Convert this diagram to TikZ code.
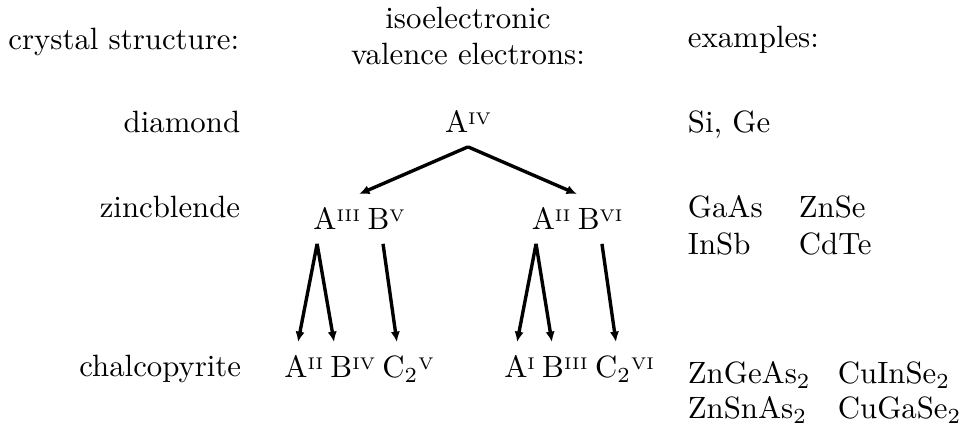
\documentclass[tikz,border=0pt]{standalone}
\usepackage{tikz}
\usetikzlibrary{positioning,arrows.meta}
\tikzset{
  rowname/.style={anchor=base east},
  example/.style={anchor=base west},
  formula/.style={anchor=base,inner ysep=4.3pt},
  branch/.style={line width=1.1pt,-{Latex[length=3.4pt,width=3pt]}}
}
\newcommand{\sups}[1]{\raisebox{2.9pt}{\fontsize{5.5}{6}\selectfont #1}}
\newcommand{\el}[2]{#1\sups{#2}}
\newcommand{\gap}{\hspace{2.4pt}}

\begin{document}
\begin{tikzpicture}[x=0.3247pt,y=-0.3247pt]
  \useasboundingbox (0,0) rectangle (960,425);
  %% header row
  \node[rowname] (hstruct) at (250,50) {crystal structure:};
  \node[align=center] (hvalence) at (468,36) {isoelectronic\\valence electrons:};
  \node[example] (hexample) at (677,48) {examples:};
  %% crystal structures
  \node[rowname] (diamond) at (251,133) {diamond};
  \node[rowname] (zinc)    at (251,218) {zincblende};
  \node[rowname] (chalco)  at (252,377) {chalcopyrite};
  %% compounds
  \node[formula] (aiv)       at (468,133) {\el{A}{IV}};
  \node[formula] (aiiibv)    at (359,230) {\el{A}{III}\gap\el{B}{V}};
  \node[formula] (aiibvi)    at (577,230) {\el{A}{II}\gap\el{B}{VI}};
  \node[formula] (aiibivcv)  at (359,378) {\el{A}{II}\gap\el{B}{IV}\gap C$_2$\sups{V}};
  \node[formula] (aibiiicvi) at (579,378) {\el{A}{I}\gap\el{B}{III}\gap C$_2$\sups{VI}};
  %% examples
  \node[example] (sige)    at (677,133) {Si, Ge};
  \node[example] (gaas)    at (677,218) {GaAs};
  \node[example] (znse)    at (788,218) {ZnSe};
  \node[example] (insb)    at (677,255) {InSb};
  \node[example] (cdte)    at (788,255) {CdTe};
  \node[example] (zngeas)  at (677,384) {ZnGeAs$_2$};
  \node[example] (cuinse)  at (827,384) {CuInSe$_2$};
  \node[example] (znsnas)  at (677,419) {ZnSnAs$_2$};
  \node[example] (cugase)  at (827,419) {CuGaSe$_2$};
  %% arrows
  \draw[branch] (aiv.south) -- (aiiibv.north);
  \draw[branch] (aiv.south) -- (aiibvi.north);
  \draw[branch] ([xshift=-13.6pt]aiiibv.south) -- ([xshift=-19.8pt]aiibivcv.north);
  \draw[branch] ([xshift=-13.6pt]aiiibv.south) -- ([xshift=-8.1pt]aiibivcv.north);
  \draw[branch] ([xshift=7.8pt]aiiibv.south)   -- ([xshift=12.3pt]aiibivcv.north);
  \draw[branch] ([xshift=-13.3pt]aiibvi.south) -- ([xshift=-20.1pt]aibiiicvi.north);
  \draw[branch] ([xshift=-13.3pt]aiibvi.south) -- ([xshift=-8.8pt]aibiiicvi.north);
  \draw[branch] ([xshift=8.1pt]aiibvi.south)   -- ([xshift=12pt]aibiiicvi.north);
\end{tikzpicture}
\end{document}
